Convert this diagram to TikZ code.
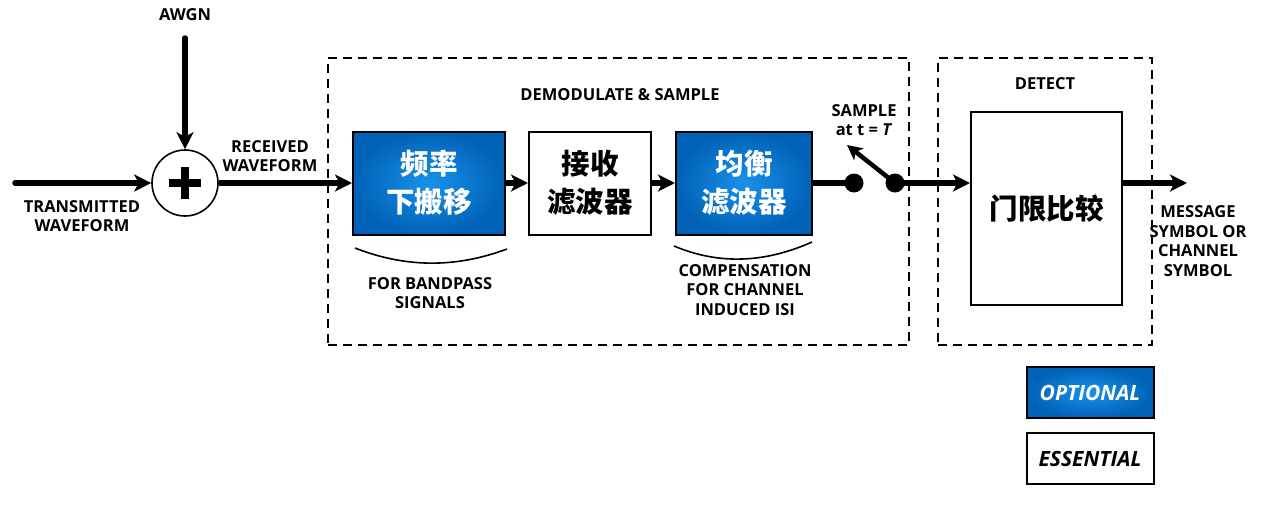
\documentclass[tikz,border=0pt]{standalone}
\usepackage{fontspec}
\setmainfont{Open Sans}
\newfontfamily\cjk{Noto Sans CJK SC}
\usetikzlibrary{arrows.meta,shapes.geometric}
\definecolor{blueC}{RGB}{25,145,235}
\definecolor{blueE}{RGB}{0,98,182}
\begin{document}
\begin{tikzpicture}[x=1pt,y=-1pt,
  lbl/.style={font=\bfseries\fontsize{16.5}{19.5}\selectfont, align=center, inner sep=0},
  sig/.style={line width=5.5pt, -{Stealth[length=17pt,width=17pt,inset=4.5pt]}},
  blk/.style={draw=black, line width=2pt, minimum height=103pt, inner sep=0, align=center,
     font=\cjk\bfseries\fontsize{28.5}{38}\selectfont},
  optblk/.style={blk, inner color=blueC, outer color=blueE, text=white},
  essblk/.style={blk, fill=white},
  grp/.style={draw=black, line width=1.5pt, dash pattern=on 9pt off 6pt, inner sep=0},
  dot/.style={circle, fill=black, minimum size=19pt, inner sep=0},
  brace/.style={line width=1.6pt},
  legend/.style={draw=black, line width=2pt, minimum width=127pt, minimum height=51pt, inner sep=0,
     font=\bfseries\itshape\fontsize{21}{24}\selectfont}]
\useasboundingbox (0,0) rectangle (1265,509);
% groups
\node[grp, minimum width=581pt, minimum height=287pt] (g1) at (618.5,201.5) {};
\node[grp, minimum width=214pt, minimum height=287pt] (g2) at (1045,201.5) {};
\node[lbl] (t1) at (620,95) {DEMODULATE \& SAMPLE};
\node[lbl] (t2) at (1045,84) {DETECT};
% adder
\node[circle, draw=black, line width=1.6pt, minimum size=66pt, inner sep=0] (add) at (185,183) {};
\draw[line width=8pt] (add.center) +(-16,0) -- +(16,0);
\draw[line width=8pt] (add.center) +(0,-16) -- +(0,16);
\coordinate (in) at (15,183);
\coordinate (nz) at (185,38);
\node[lbl] (awgn) at (185,15) {AWGN};
\draw[sig, line cap=round] (in) -- (add.west);
\draw[sig, line cap=round] (nz) -- (add.north);
\node[lbl] (tw) at (82,216) {TRANSMITTED\\WAVEFORM};
\node[lbl] (rw) at (270,156) {RECEIVED\\WAVEFORM};
% blocks
\node[optblk, minimum width=152pt] (b1) at (429,183) {频率\\下搬移};
\node[essblk, minimum width=122pt] (b2) at (590,183) {接收\\滤波器};
\node[optblk, minimum width=136pt] (b3) at (744,183) {均衡\\滤波器};
\node[essblk, minimum width=151pt, minimum height=193pt] (b4) at (1046.5,208.5) {门限比较};
\draw[sig] (add.east) -- (b1.west);
\draw[sig] (b1.east) -- (b2.west);
\draw[sig] (b2.east) -- (b3.west);
% switch
\node[dot] (d1) at (854,183) {};
\node[dot] (d2) at (895,183) {};
\coordinate (lv) at (847,145);
\draw[line width=5.5pt] (b3.east) -- (d1.center);
\draw[line width=4.5pt, -{Stealth[length=15pt,width=15pt,inset=4pt]}] (d2.center) -- (lv);
\coordinate (b4in) at (b4.west |- d2);
\draw[sig] (d2.center) -- (b4in);
\node[lbl] (smp) at (864,120) {SAMPLE\\at t = \textit{T}};
% output
\coordinate (b4out) at (b4.east |- d2);
\coordinate (out) at (1187,183);
\draw[sig] (b4out) -- (out);
\node[lbl] (msg) at (1198,241) {MESSAGE\\SYMBOL OR\\CHANNEL\\SYMBOL};
% braces
\coordinate (br1a) at (355,248);
\coordinate (br1b) at (507,249);
\coordinate (br2a) at (674,246);
\coordinate (br2b) at (812,242);
\draw[brace] (br1a) .. controls (406,268) and (456,268) .. (br1b);
\draw[brace] (br2a) .. controls (719,265) and (765,263) .. (br2b);
\node[lbl] (fb) at (430,293) {FOR BANDPASS\\SIGNALS};
\node[lbl] (cc) at (745,290) {COMPENSATION\\FOR CHANNEL\\INDUCED ISI};
% legend
\node[legend, inner color=blueC, outer color=blueE, text=white] (lo) at (1090,392.5) {OPTIONAL};
\node[legend, fill=white] (le) at (1090,458.5) {ESSENTIAL};
\end{tikzpicture}
\end{document}
